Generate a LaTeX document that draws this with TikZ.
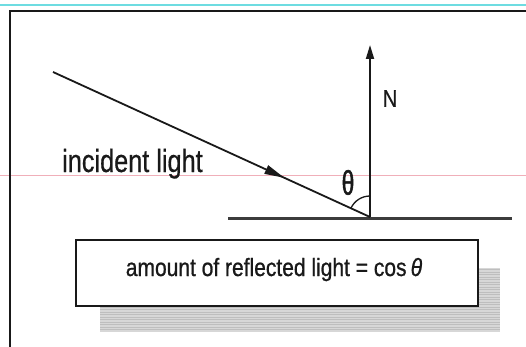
\documentclass[tikz,border=0pt]{standalone}
\usepackage{fontspec}
\setmainfont{Liberation Sans}
\newfontfamily\fa[FakeStretch=0.79,FakeBold=0.6]{Liberation Sans}
\newfontfamily\fb[FakeStretch=0.84,FakeBold=0.8]{Liberation Sans}
\newfontfamily\fc[FakeStretch=0.66,FakeBold=1.5]{Liberation Sans}
\newfontfamily\fn[FakeStretch=0.85,FakeBold=0.4]{Liberation Sans}
\usetikzlibrary{arrows.meta,decorations.markings}
\definecolor{ink}{RGB}{25,25,25}
\definecolor{cyanline}{RGB}{110,220,225}
\definecolor{pinkline}{RGB}{240,175,185}
\definecolor{shadowfill}{RGB}{215,215,215}
\definecolor{shadowline}{RGB}{190,190,190}
\tikzset{
  ray/.style={draw=ink, line width=1.8pt},
  normalline/.style={draw=ink, line width=1.8pt, -{Triangle[length=14pt,width=8pt]}},
  surface/.style={draw=ink!85, line width=3.8pt},
  framel/.style={draw=ink, line width=1.3pt},
  textbox/.style={draw=ink, line width=2pt, fill=white, minimum width=402pt, minimum height=66pt, inner sep=0pt},
  lbl/.style={text=ink, inner sep=0pt}
}
\begin{document}
\begin{tikzpicture}[x=1pt,y=-1pt]
\useasboundingbox (0,0) rectangle (526,347);
\fill[white] (0,0) rectangle (526,347);
% guide lines
\draw[cyanline, line width=1.6pt] (0,5) -- (526,5);
\draw[pinkline, line width=0.5pt] (0,175) -- (526,175);
% frame
\draw[framel] (10,347) -- (10,11) -- (526,11);
% coordinates
\coordinate (src) at (53,72);
\coordinate (hit) at (370,217);
\coordinate (ntop) at (370,45);
\coordinate (sl) at (228,218.5);
\coordinate (sr) at (512,218.5);
% surface
\draw[surface] (sl) -- (sr);
% incident ray
\draw[ray, postaction={decorate}, decoration={markings, mark=at position 0.73 with {\arrow{Triangle[length=20pt,width=9pt]}}}] (src) -- (hit);
% normal
\draw[normalline] (hit) -- (ntop);
% angle arc
\draw[ink, line width=1.3pt] ([shift={(0,-21)}]hit) arc[start angle=-90, end angle=-155, radius=21];
% labels
\node[lbl, anchor=base west, font=\fa\fontsize{32}{36}\selectfont] (inc) at (62,172) {incident light};
\node[lbl, font=\fc\fontsize{34}{38}\selectfont] (theta) at (348,182.5) {θ};
\node[lbl, font=\fn\fontsize{24}{28}\selectfont] (N) at (390,98.5) {N};
% shadow
\fill[shadowfill] (100,268) rectangle (500,332);
\foreach \yy in {269.5,272,...,331} {\draw[shadowline, line width=0.5pt] (100,\yy) -- (500,\yy);}
% box
\node[textbox] (box) at (277,273) {};
\node[lbl, anchor=base, font=\fb\fontsize{25}{28}\selectfont] (eq) at (274,276) {amount of reflected light = cos\,{\itshape θ}};
\end{tikzpicture}
\end{document}
